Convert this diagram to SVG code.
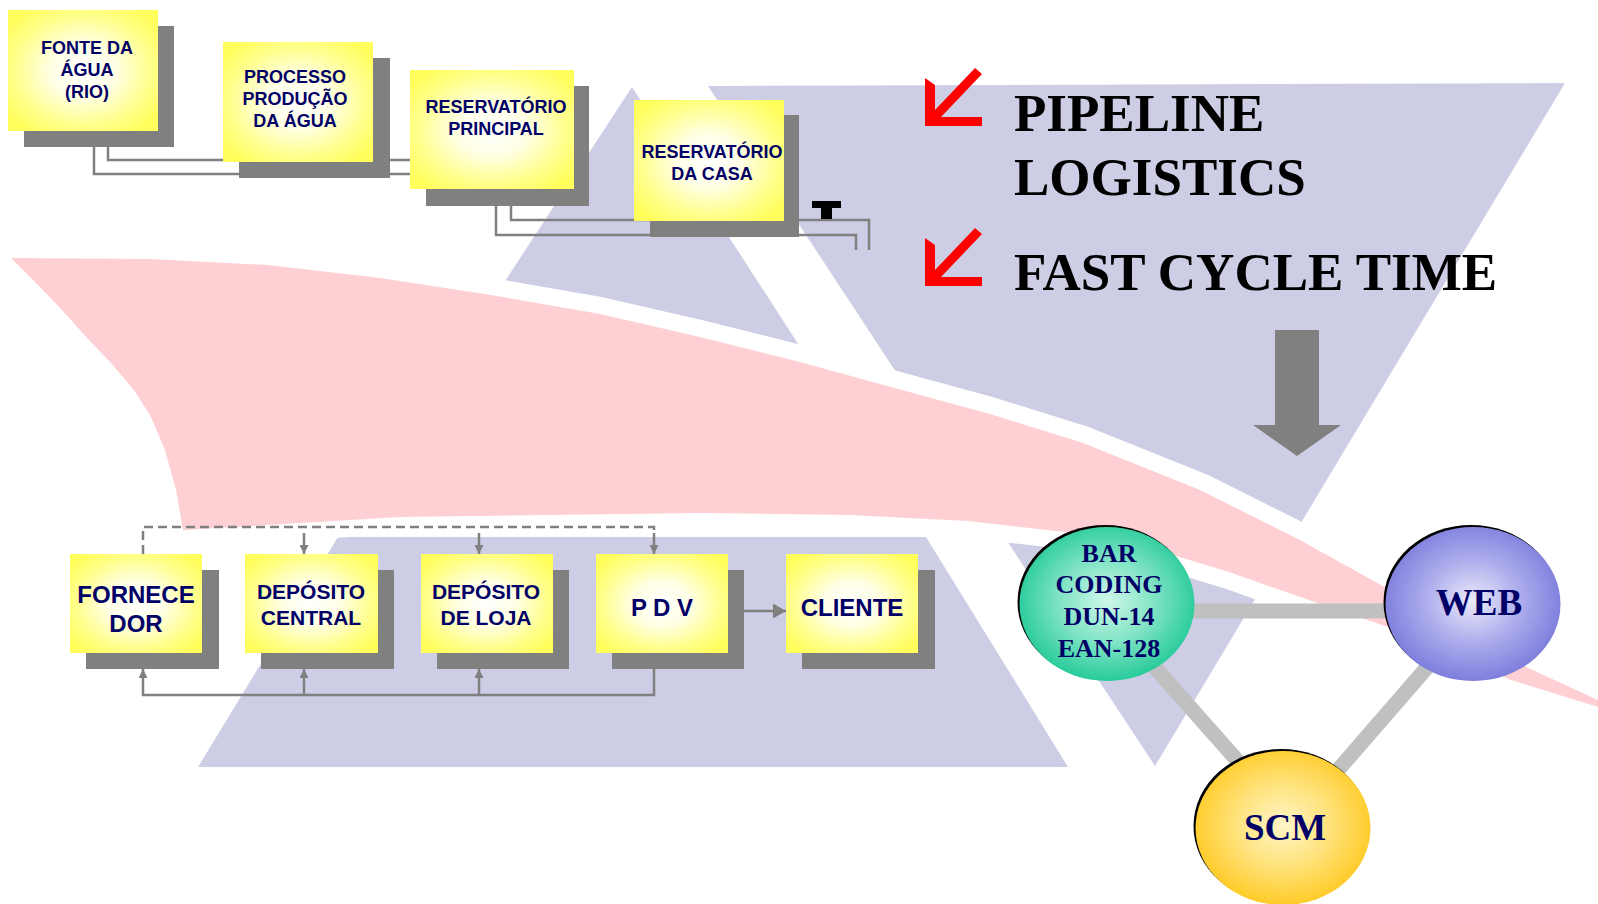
<svg xmlns="http://www.w3.org/2000/svg" width="1598" height="904" viewBox="0 0 1598 904">
<defs>
<radialGradient id="gy" cx="50%" cy="50%" r="62%">
<stop offset="0" stop-color="#FFFFFF"/>
<stop offset="0.35" stop-color="#FFFFE6"/>
<stop offset="0.75" stop-color="#FFFF88"/>
<stop offset="1" stop-color="#FFFF5C"/>
</radialGradient>
<radialGradient id="gg" cx="50%" cy="48%" r="55%">
<stop offset="0" stop-color="#CFF7EA"/>
<stop offset="0.5" stop-color="#7FE3C4"/>
<stop offset="1" stop-color="#1EC896"/>
</radialGradient>
<radialGradient id="gb" cx="50%" cy="48%" r="55%">
<stop offset="0" stop-color="#EAEAFB"/>
<stop offset="0.5" stop-color="#ACACEC"/>
<stop offset="1" stop-color="#7878DC"/>
</radialGradient>
<radialGradient id="go" cx="50%" cy="48%" r="55%">
<stop offset="0" stop-color="#FFF6C8"/>
<stop offset="0.5" stop-color="#FFE27A"/>
<stop offset="1" stop-color="#FFC81E"/>
</radialGradient>
<marker id="ah" viewBox="0 0 10 10" refX="10" refY="5" markerWidth="9" markerHeight="9" markerUnits="userSpaceOnUse" orient="auto">
<path d="M0,0 L10,5 L0,10 Z" fill="#808080"/>
</marker>
<marker id="ahl" viewBox="0 0 10 10" refX="10" refY="5" markerWidth="13" markerHeight="15" markerUnits="userSpaceOnUse" orient="auto" preserveAspectRatio="none">
<path d="M0,0 L10,5 L0,10 Z" fill="#808080"/>
</marker>
</defs>
<style>
.lav{fill:#CDCDE5}
.pink{fill:#FFD0D3;stroke:#FFFFFF;stroke-width:34;stroke-linejoin:round;paint-order:stroke}
.sh{fill:#808080}
.bx{fill:url(#gy)}
.t{font-family:"Liberation Sans",Arial,sans-serif;font-weight:bold;fill:#000066;text-anchor:middle}
.ts{font-size:18px}
.tl{font-size:24px}
.td{font-size:21px}
.ln{fill:none;stroke:#808080;stroke-width:2.5}
.dash{fill:none;stroke:#808080;stroke-width:2.5;stroke-dasharray:9 5}
.bar{stroke:#C0C0C0;stroke-width:15;fill:none}
.big{font-family:"Liberation Serif","Times New Roman",serif;font-weight:bold;font-size:53px;fill:#000000}
.ct{font-family:"Liberation Serif","Times New Roman",serif;font-weight:bold;fill:#000066;text-anchor:middle}
.red{fill:#FF0000}
</style>
<rect width="1598" height="904" fill="#FFFFFF"/>
<g id="background">
<polygon class="lav" points="632,87 475,327 815,370"/>
<polygon class="lav" points="708,86 1565,83 1155,766"/>
<polygon class="lav" points="338,537 926,537 1068,767 198,767"/>
<path class="pink" d="M11,258 L150,259 L268,265 L380,278 L491,295 L600,314 L700,337 L800,362 L891,387 L990,414 L1083,443 L1200,490 L1300,540 L1381,585 L1511,660 L1598,700 L1598,707 L1511,680 L1385,626 L1300,597 L1229,572 L1150,548 L1083,534 L968,521 L850,515 L700,513 L400,517 L183,530 L176,490 L165,450 L150,415 L134,390 L110,362 L89,340 L60,308 L35,282 Z"/>
</g>
<g id="connectors">
<path class="ln" d="M108,146 V160 H410"/>
<path class="ln" d="M94,146 V174 H410"/>
<path class="ln" d="M511,206 V220 H869 V250"/>
<path class="ln" d="M496,206 V235 H856 V250"/>
<path class="dash" d="M143,554 V527 H654 V532"/>
<path class="ln" d="M304,533 V554" marker-end="url(#ah)"/>
<path class="ln" d="M479,533 V554" marker-end="url(#ah)"/>
<path class="ln" d="M654,533 V554" marker-end="url(#ah)"/>
<path class="ln" d="M654,669 V695 H143 V669" marker-end="url(#ah)"/>
<path class="ln" d="M304,695 V669" marker-end="url(#ah)"/>
<path class="ln" d="M479,695 V669" marker-end="url(#ah)"/>
<path class="ln" d="M744,611 H786" marker-end="url(#ahl)"/>
<path class="bar" d="M1190,611 H1390"/>
<path class="bar" d="M1150,662 L1243,767"/>
<path class="bar" d="M1430,664 L1338,770"/>
</g>
<g id="valve">
<rect x="812" y="201" width="29" height="7" fill="#000000"/>
<rect x="821" y="207" width="11" height="12" fill="#000000"/>
</g>
<g id="n-fonte">
<rect class="sh" x="24" y="26" width="150" height="121"/>
<rect class="bx" x="8" y="10" width="150" height="121"/>
<text class="t ts" x="87" y="54">FONTE DA</text>
<text class="t ts" x="87" y="76">ÁGUA</text>
<text class="t ts" x="87" y="98">(RIO)</text>
</g>
<g id="n-processo">
<rect class="sh" x="239" y="58" width="151" height="120"/>
<rect class="bx" x="223" y="42" width="150" height="120"/>
<text class="t ts" x="295" y="83">PROCESSO</text>
<text class="t ts" x="295" y="105">PRODUÇÃO</text>
<text class="t ts" x="295" y="127">DA ÁGUA</text>
</g>
<g id="n-principal">
<rect class="sh" x="426" y="86" width="163" height="120"/>
<rect class="bx" x="410" y="70" width="164" height="119"/>
<text class="t ts" x="496" y="113">RESERVATÓRIO</text>
<text class="t ts" x="496" y="135">PRINCIPAL</text>
</g>
<g id="n-casa">
<rect class="sh" x="650" y="115" width="149" height="122"/>
<rect class="bx" x="634" y="100" width="150" height="121"/>
<text class="t ts" x="712" y="158">RESERVATÓRIO</text>
<text class="t ts" x="712" y="180">DA CASA</text>
</g>
<g id="title">
<polygon class="red" points="925,126 982,126 982,117 941,117 982,74 975,68 935,110 935,85 925,78"/>
<polygon class="red" points="925,286 982,286 982,277 941,277 982,234 975,228 935,270 935,245 925,238"/>
<text class="big" x="1014" y="131">PIPELINE</text>
<text class="big" x="1014" y="195">LOGISTICS</text>
<text class="big" x="1014" y="290">FAST CYCLE TIME</text>
<polygon fill="#808080" points="1275,330 1319,330 1319,425 1341,425 1297,456 1253,425 1275,425"/>
</g>
<g id="n-fornecedor">
<rect class="sh" x="86" y="570" width="133" height="99"/>
<rect class="bx" x="70" y="554" width="132" height="99"/>
<text class="t tl" x="136" y="603">FORNECE</text>
<text class="t tl" x="136" y="632">DOR</text>
</g>
<g id="n-central">
<rect class="sh" x="261" y="570" width="133" height="99"/>
<rect class="bx" x="245" y="554" width="133" height="99"/>
<text class="t td" x="311" y="599">DEPÓSITO</text>
<text class="t td" x="311" y="625">CENTRAL</text>
</g>
<g id="n-loja">
<rect class="sh" x="437" y="570" width="132" height="99"/>
<rect class="bx" x="421" y="554" width="132" height="99"/>
<text class="t td" x="486" y="599">DEPÓSITO</text>
<text class="t td" x="486" y="625">DE LOJA</text>
</g>
<g id="n-pdv">
<rect class="sh" x="612" y="570" width="132" height="99"/>
<rect class="bx" x="596" y="554" width="132" height="99"/>
<text class="t tl" x="662" y="616">P D V</text>
</g>
<g id="n-cliente">
<rect class="sh" x="802" y="570" width="133" height="99"/>
<rect class="bx" x="786" y="554" width="132" height="99"/>
<text class="t tl" x="852" y="616">CLIENTE</text>
</g>
<g id="n-bar">
<ellipse cx="1105" cy="602" rx="87.5" ry="77" fill="#000000"/>
<ellipse cx="1107" cy="604" rx="87.5" ry="77" fill="url(#gg)"/>
<text class="ct" font-size="26" x="1109" y="562">BAR</text>
<text class="ct" font-size="26" x="1109" y="593">CODING</text>
<text class="ct" font-size="26" x="1109" y="625">DUN-14</text>
<text class="ct" font-size="26" x="1109" y="657">EAN-128</text>
</g>
<g id="n-web">
<ellipse cx="1471" cy="602" rx="87.5" ry="77" fill="#000000"/>
<ellipse cx="1473" cy="604" rx="87.5" ry="77" fill="url(#gb)"/>
<text class="ct" font-size="37" x="1479" y="615">WEB</text>
</g>
<g id="n-scm">
<ellipse cx="1281" cy="826" rx="87.5" ry="77" fill="#000000"/>
<ellipse cx="1283" cy="828" rx="87.5" ry="77" fill="url(#go)"/>
<text class="ct" font-size="37" x="1285" y="840">SCM</text>
</g>
</svg>
